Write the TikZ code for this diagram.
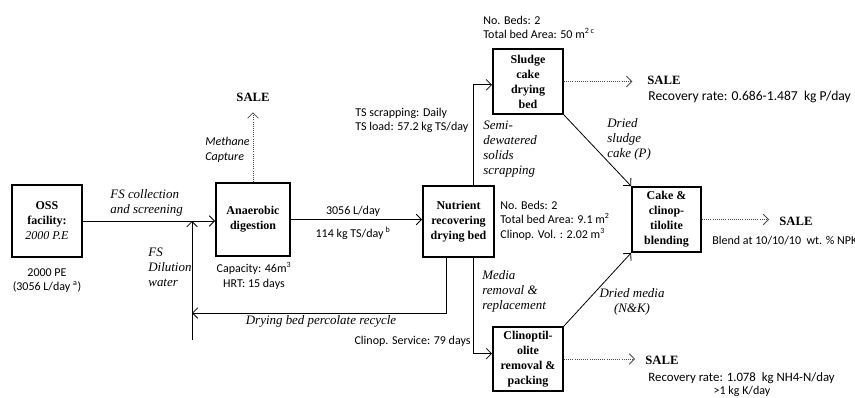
\documentclass[tikz,border=0pt]{standalone}
\usepackage{fontspec}
\setmainfont{Liberation Serif}
\newfontfamily\calibfont{Carlito}
\usetikzlibrary{arrows.meta}

\begin{document}
\begin{tikzpicture}[x=7.5pt, y=7.5pt, line width=0.6pt]
    % Node styles
    \tikzset{
      unit/.style={draw, line width=1.4pt, align=center, inner sep=1pt,
        font=\fontsize{9}{11.3}\selectfont\bfseries},
      flow/.style={-{Straight Barb[length=4pt,width=8pt]}},
      salearrow/.style={flow, densely dotted, gray!60!black},
      note/.style={inner sep=0pt, font=\calibfont\fontsize{9}{11}\selectfont},
      stream/.style={inner sep=0pt, font=\fontsize{9.7}{11.3}\selectfont\itshape},
      sale/.style={inner sep=0pt, font=\fontsize{9.5}{11}\selectfont\bfseries}
    }
    \useasboundingbox (0,0) rectangle (85.5,39.7);

    % Process units
    \node[unit, minimum width=52.5pt, minimum height=54pt] (oss) at (4.7,17.6) {OSS\\facility:\\{\mdseries\itshape 2000 P.E}};
    \node[unit, minimum width=55.5pt, minimum height=54.75pt] (ad) at (25.3,17.75) {Anaerobic\\digestion};
    \node[unit, minimum width=53.25pt, minimum height=53.25pt] (nrdb) at (45.85,17.55) {Nutrient\\recovering\\drying bed};
    \node[unit, minimum width=52.5pt, minimum height=48.75pt] (scdb) at (52.8,31.55) {Sludge\\cake\\drying\\bed};
    \node[unit, minimum width=51.75pt, minimum height=48.75pt] (blend) at (66.65,17.75) {Cake \&\\clinop-\\tilolite\\blending};
    \node[unit, minimum width=52.5pt, minimum height=48pt] (clino) at (52.8,3.8) {Clinoptil-\\olite\\removal \&\\packing};

    % SALE outlets
    \node[sale] (sale1) at (25.3,30.0) {SALE};
    \node[sale, anchor=west] (sale2) at (64.7,31.7) {SALE};
    \node[sale, anchor=west] (sale3) at (77.9,17.6) {SALE};
    \node[sale, anchor=west] (sale4) at (64.5,3.7) {SALE};

    % Free ends of the recycle line
    \coordinate (dil) at (19.2,5.7);
    \coordinate (perc) at (44.6,8.4);
    \coordinate (split) at (47.3,17.55);

    % Main flow
    \draw[flow] (oss.east) -- (oss.east -| ad.west);
    \draw[flow] (dil) -- (dil |- oss.east);
    \draw[flow] (ad.east) -- (ad.east -| nrdb.west);
    \draw[flow] (nrdb.south -| perc) -- (perc) -- (perc -| dil);
    \draw[flow] (nrdb.north -| split) |- ([yshift=-2.5pt]scdb.west);
    \draw[flow] (nrdb.south -| split) |- ([yshift=4pt]clino.west);
    \draw[flow] (scdb.south east) -- (blend.north west);
    \draw[flow] (clino.north east) -- (blend.south west);

    % Products to sale
    \draw[salearrow, shorten >=8pt] (ad.north) -- (sale1.south);
    \draw[salearrow, shorten >=11pt] (scdb.east) -- (scdb.east -| sale2.west);
    \draw[salearrow, shorten >=7.5pt] (blend.east) -- (blend.east -| sale3.west);
    \draw[salearrow, shorten >=7.5pt] (clino.east) -- (clino.east -| sale4.west);

    % Stream labels
    \node[stream, anchor=west, align=left] (fscoll) at (11.0,19.45) {FS collection\\and screening};
    \node[stream, anchor=west, align=left] (fsdil) at (14.8,13.0) {FS\\Dilution\\water};
    \node[note, anchor=west, align=left, font=\calibfont\itshape\fontsize{9}{11}\selectfont] (methane) at (20.5,24.7) {Methane\\Capture};
    \node[stream, anchor=west, align=left] (semi) at (48.3,24.8) {Semi-\\dewatered\\solids\\scrapping};
    \node[stream, anchor=west, align=left] (media) at (48.2,10.6) {Media\\removal \&\\replacement};
    \node[stream] (perclabel) at (32.1,7.6) {Drying bed percolate recycle};
    \node[stream, anchor=west, align=left] (driedP) at (60.7,25.75) {Dried\\sludge\\cake (P)};
    \node[stream, align=center] (driedNK) at (63.2,9.5) {Dried media\\(N\&K)};

    % Design data
    \node[note, align=center] (ossnote) at (4.7,11.65) {2000 PE\\(3056 L/day \textsuperscript{a})};
    \node[note, align=center] (adnote) at (25.4,12.15) {Capacity: 46m\textsuperscript{3}\\HRT: 15 days};
    \node[note] (flowq) at (35.3,18.6) {3056 L/day};
    \node[note] (flowts) at (35.3,16.4) {114 kg TS/day\,\textsuperscript{b}};
    \node[note, anchor=west, align=left] (tsnote) at (35.5,27.65) {TS scrapping: Daily\\TS load: 57.2 kg TS/day};
    \node[note, anchor=west, align=left] (scdbnote) at (48.3,36.95) {No. Beds: 2\\Total bed Area: 50 m\textsuperscript{2 c}};
    \node[note, anchor=west, align=left] (nrdbnote) at (50.0,17.65) {No. Beds: 2\\Total bed Area: 9.1 m\textsuperscript{2}\\Clinop. Vol. : 2.02 m\textsuperscript{3}};
    \node[note, anchor=east] (service) at (47.1,5.6) {Clinop. Service: 79 days};
    \node[note, anchor=west, font=\calibfont\fontsize{10.2}{11}\selectfont] (rec2) at (64.8,30.0) {Recovery rate: 0.686-1.487\ \ kg P/day};
    \node[note, anchor=west] (blendnote) at (71.2,15.6) {Blend at 10/10/10\ \ wt. \% NPK};
    \node[note, anchor=west, font=\calibfont\fontsize{9.6}{11}\selectfont] (rec4) at (64.8,1.9) {Recovery rate: 1.078\ \ kg NH4-N/day};
    \node[note] (rec4b) at (74.2,0.55) {>1 kg K/day};
\end{tikzpicture}
\end{document}
